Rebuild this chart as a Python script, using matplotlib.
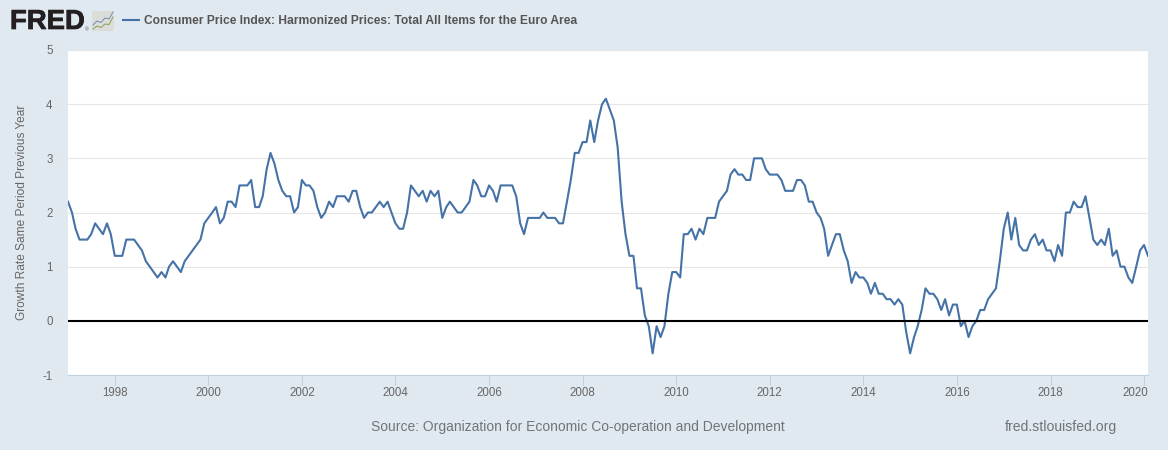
import pandas as pd
import matplotlib
matplotlib.use("Agg")
import matplotlib.pyplot as plt
import matplotlib.dates as mdates
import matplotlib.patheffects as pe
from matplotlib.patches import FancyBboxPatch
from matplotlib.transforms import ScaledTranslation

BG_COL = "#e1e9f0"
LINE_COL = "#4572a7"
GRID_COL = "#e6e6e6"
TICK_COL = "#c0d0e0"
TEXT_COL = "#666666"

plt.rcParams['font.family'] = ['Liberation Sans', 'DejaVu Sans']
plt.rcParams['axes.unicode_minus'] = False

series_name = "Consumer Price Index: Harmonized Prices: Total All Items for the Euro Area"
y_title = "Growth Rate Same Period Previous Year"
source_text = "Source: Organization for Economic Co-operation and Development"
site_text = "fred.stlouisfed.org"

year_ticks = [1998, 2000, 2002, 2004, 2006, 2008, 2010, 2012, 2014, 2016, 2018, 2020]
y_ticks = [-1, 0, 1, 2, 3, 4, 5]

# monthly values, Jan 1997 to Feb 2020
y1997 = [2.2, 2.0, 1.7, 1.5, 1.5, 1.5, 1.6, 1.8, 1.7, 1.6, 1.8, 1.6]
y1998 = [1.2, 1.2, 1.2, 1.5, 1.5, 1.5, 1.4, 1.3, 1.1, 1.0, 0.9, 0.8]
y1999 = [0.9, 0.8, 1.0, 1.1, 1.0, 0.9, 1.1, 1.2, 1.3, 1.4, 1.5, 1.8]
y2000 = [1.9, 2.0, 2.1, 1.8, 1.9, 2.2, 2.2, 2.1, 2.5, 2.5, 2.5, 2.6]
y2001 = [2.1, 2.1, 2.3, 2.8, 3.1, 2.9, 2.6, 2.4, 2.3, 2.3, 2.0, 2.1]
y2002 = [2.6, 2.5, 2.5, 2.4, 2.1, 1.9, 2.0, 2.2, 2.1, 2.3, 2.3, 2.3]
y2003 = [2.2, 2.4, 2.4, 2.1, 1.9, 2.0, 2.0, 2.1, 2.2, 2.1, 2.2, 2.0]
y2004 = [1.8, 1.7, 1.7, 2.0, 2.5, 2.4, 2.3, 2.4, 2.2, 2.4, 2.3, 2.4]
y2005 = [1.9, 2.1, 2.2, 2.1, 2.0, 2.0, 2.1, 2.2, 2.6, 2.5, 2.3, 2.3]
y2006 = [2.5, 2.4, 2.2, 2.5, 2.5, 2.5, 2.5, 2.3, 1.8, 1.6, 1.9, 1.9]
y2007 = [1.9, 1.9, 2.0, 1.9, 1.9, 1.9, 1.8, 1.8, 2.2, 2.6, 3.1, 3.1]
y2008 = [3.3, 3.3, 3.7, 3.3, 3.7, 4.0, 4.1, 3.9, 3.7, 3.2, 2.2, 1.6]
y2009 = [1.2, 1.2, 0.6, 0.6, 0.1, -0.1, -0.6, -0.1, -0.3, -0.1, 0.5, 0.9]
y2010 = [0.9, 0.8, 1.6, 1.6, 1.7, 1.5, 1.7, 1.6, 1.9, 1.9, 1.9, 2.2]
y2011 = [2.3, 2.4, 2.7, 2.8, 2.7, 2.7, 2.6, 2.6, 3.0, 3.0, 3.0, 2.8]
y2012 = [2.7, 2.7, 2.7, 2.6, 2.4, 2.4, 2.4, 2.6, 2.6, 2.5, 2.2, 2.2]
y2013 = [2.0, 1.9, 1.7, 1.2, 1.4, 1.6, 1.6, 1.3, 1.1, 0.7, 0.9, 0.8]
y2014 = [0.8, 0.7, 0.5, 0.7, 0.5, 0.5, 0.4, 0.4, 0.3, 0.4, 0.3, -0.2]
y2015 = [-0.6, -0.3, -0.1, 0.2, 0.6, 0.5, 0.5, 0.4, 0.2, 0.4, 0.1, 0.3]
y2016 = [0.3, -0.1, 0.0, -0.3, -0.1, 0.0, 0.2, 0.2, 0.4, 0.5, 0.6, 1.1]
y2017 = [1.7, 2.0, 1.5, 1.9, 1.4, 1.3, 1.3, 1.5, 1.6, 1.4, 1.5, 1.3]
y2018 = [1.3, 1.1, 1.4, 1.2, 2.0, 2.0, 2.2, 2.1, 2.1, 2.3, 1.9, 1.5]
y2019 = [1.4, 1.5, 1.4, 1.7, 1.2, 1.3, 1.0, 1.0, 0.8, 0.7, 1.0, 1.3]
y2020 = [1.4, 1.2]

values = (y1997 + y1998 + y1999 + y2000 + y2001 + y2002 + y2003 + y2004 + y2005
          + y2006 + y2007 + y2008 + y2009 + y2010 + y2011 + y2012 + y2013 + y2014
          + y2015 + y2016 + y2017 + y2018 + y2019 + y2020)
dates = pd.date_range("1997-01-01", periods=len(values), freq="MS")

W, H = 1168, 450
fig = plt.figure(figsize=(W / 100, H / 100), dpi=100, facecolor=BG_COL)

# plot area in pixels
left, right, top, bottom = 68, 1148, 50, 375
ax = fig.add_axes([left / W, 1 - bottom / H, (right - left) / W, (bottom - top) / H])
ax.set_facecolor("white")
ax.plot(dates, values, color=LINE_COL, lw=1.5, zorder=3, solid_joinstyle="round")
ax.axhline(0, color="black", lw=1.5, zorder=4)
ax.set_xlim(dates[0], dates[-1])
ax.set_ylim(-1, 5)

ax.set_yticks(y_ticks)
ax.set_xticks([mdates.date2num(pd.Timestamp(year=y, month=1, day=1)) for y in year_ticks])
ax.set_xticklabels([str(y) for y in year_ticks])
ax.grid(axis="y", color=GRID_COL, lw=0.8, zorder=1)
ax.tick_params(axis="x", length=7, width=0.8, color=TICK_COL, labelsize=8.3, labelcolor=TEXT_COL, pad=1.4)
ax.tick_params(axis="y", length=0, labelsize=8.3, labelcolor=TEXT_COL, pad=11)
for side in ["top", "left", "right"]:
    ax.spines[side].set_visible(False)
ax.spines["bottom"].set_color(TICK_COL)
ax.spines["bottom"].set_linewidth(0.8)

# last year label is pushed inside the plot edge
last_label = ax.get_xticklabels()[-1]
last_label.set_ha("right")
last_label.set_transform(last_label.get_transform() + ScaledTranslation(4.3 / 100, 0, fig.dpi_scale_trans))

# overlay in pixel coordinates for the header and footer
over = fig.add_axes([0, 0, 1, 1], facecolor="none")
over.set_xlim(0, W)
over.set_ylim(H, 0)
over.axis("off")

logo = over.text(10, 22, "FRED", fontsize=19.8, fontweight="bold", color="#231f20", va="center", ha="left")
logo.set_path_effects([pe.withStroke(linewidth=0.5, foreground="#231f20")])
over.text(85, 29.5, "®", fontsize=3.5, color="#555555", va="center", ha="left")
over.add_patch(FancyBboxPatch((92, 11), 22, 20, boxstyle="round,pad=0,rounding_size=1.5", fc="#dcdcd8", ec="none"))
over.plot([93, 97, 101, 105, 109, 113], [25, 21, 22.5, 18, 19, 12], color="#6f8fb3", lw=0.7)
over.plot([93, 97, 101, 105, 109, 113], [29, 26, 27.5, 24, 24.5, 17], color="#7fa650", lw=0.7)

over.plot([123, 139], [20, 20], color=LINE_COL, lw=1.5)
over.text(144, 21, series_name, fontsize=8.65, fontweight="bold", color="#555555", va="center", ha="left")
over.text(22, 212, y_title, fontsize=8.55, color=TEXT_COL, rotation=90, va="center", ha="center")
over.text(371, 427, source_text, fontsize=10.0, color="#70757a", va="center", ha="left")
over.text(1117, 427, site_text, fontsize=10.1, color="#70757a", va="center", ha="right")

fig.savefig("out.png", dpi=100, facecolor=BG_COL)
